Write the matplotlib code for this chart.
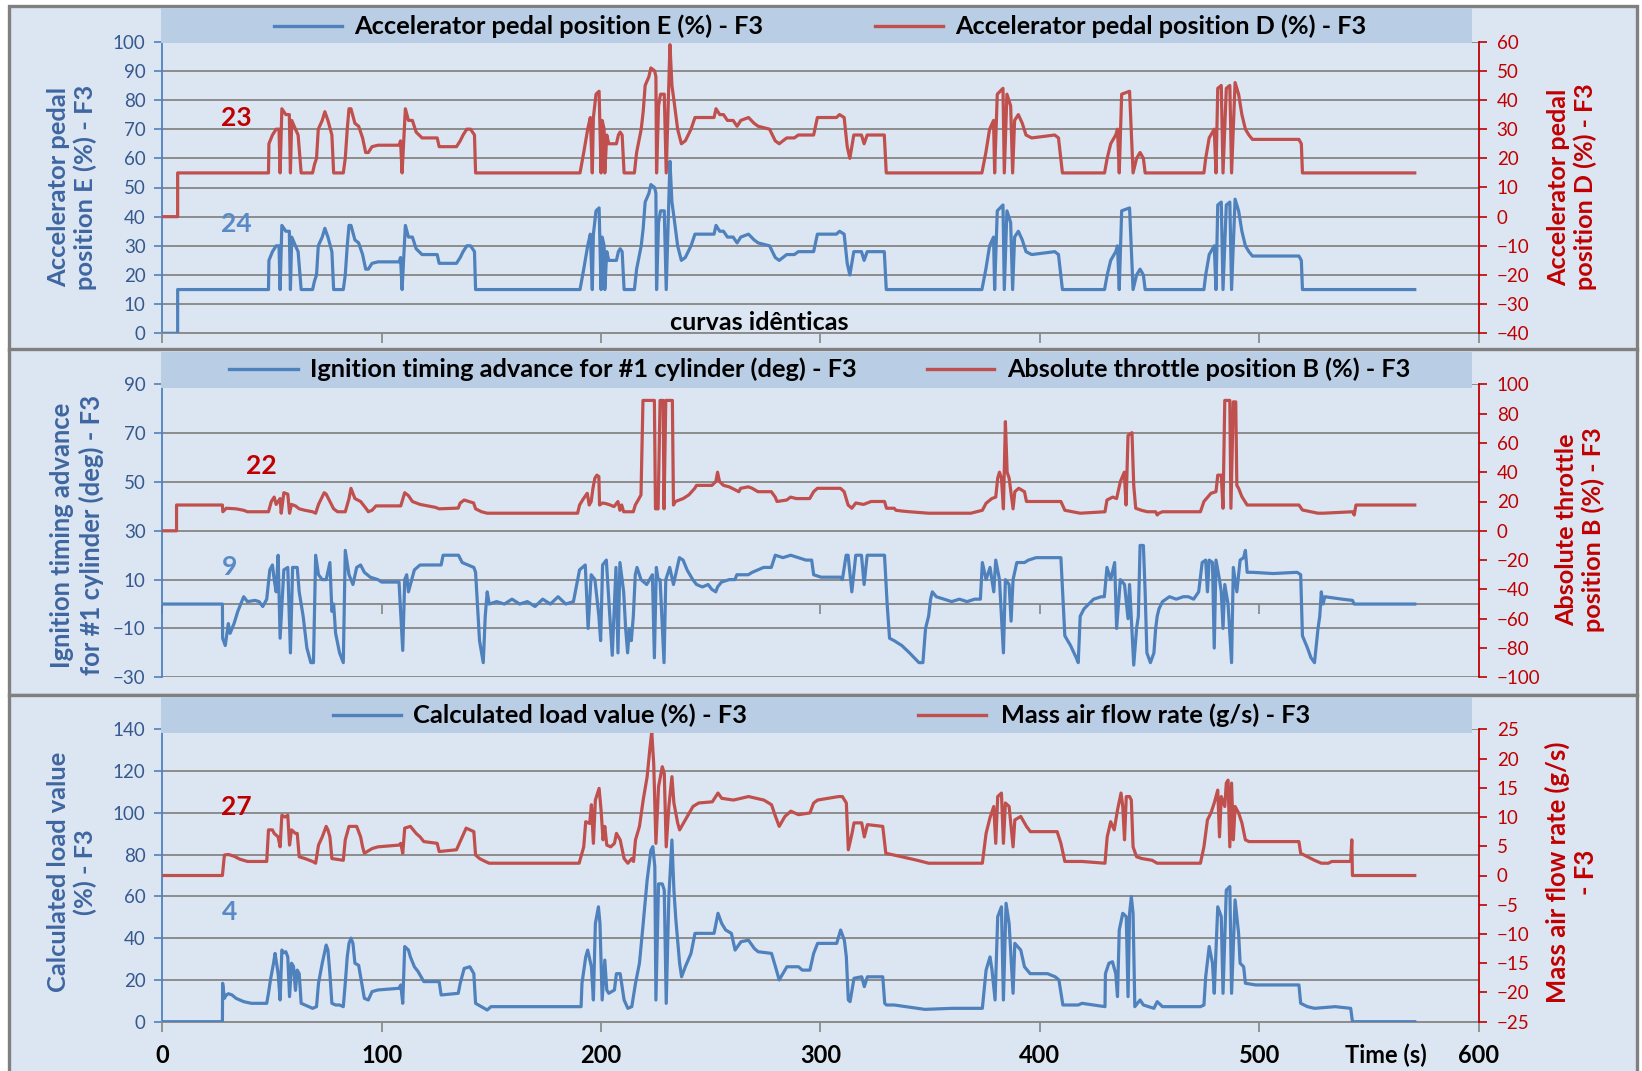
import matplotlib
matplotlib.use("Agg")
import matplotlib.pyplot as plt
from matplotlib.patches import Rectangle
from matplotlib.lines import Line2D

plt.rcParams['font.family'] = ['Lato', 'DejaVu Sans']

# ---- logged OBD signals, (time s, value) ----
# accelerator pedal position E (%) - sensor D reads the same trace
pedal_e = [(0, 0), (7, 0), (7, 15), (48.4, 15), (48.6, 25), (50.2, 28), (51.9, 30), (53.2, 30), (53.7, 15),
           (54.5, 37), (56.3, 35), (57.9, 35), (58.4, 15), (59.0, 33), (60.7, 30), (61.9, 28), (63.3, 15),
           (68.5, 15), (69.4, 18), (70.3, 20), (71.1, 30), (72.9, 33), (74.1, 36), (75.5, 33), (77.3, 28),
           (78.1, 15), (82.5, 15), (83.4, 20), (84.3, 30), (85.1, 37), (86.0, 37), (87.8, 32), (89.5, 31),
           (91.3, 27), (92.7, 22), (93.9, 22), (95.6, 24), (98.3, 24.5), (107.9, 24.5), (108.6, 26),
           (109.3, 15), (110.8, 37), (112.2, 33), (114.0, 33), (115.7, 29), (118.4, 27), (125.3, 27),
           (126.2, 24), (134.1, 24), (135.8, 26), (137.1, 28), (138.8, 30), (140.5, 30), (142.3, 28),
           (142.8, 15), (190.4, 15), (192.1, 22), (193.9, 30), (195.1, 34), (196.0, 15), (196.5, 34),
           (197.7, 42), (199.1, 43), (200.0, 15), (200.5, 33), (201.4, 30), (201.7, 15), (202.6, 28),
           (203.5, 25), (207.0, 25), (207.9, 28), (208.7, 29), (209.6, 28), (210.5, 15), (215.2, 15),
           (216.2, 22), (218.3, 30), (219.2, 36), (220.1, 45), (221.8, 48), (222.7, 51), (224.4, 50),
           (225.0, 48), (225.3, 15), (226.2, 38), (227.1, 42), (228.8, 42), (229.7, 15), (231.4, 59),
           (232.3, 45), (233.2, 40), (234.9, 30), (236.6, 25), (238.4, 26), (241.0, 30), (242.8, 34),
           (251.5, 34), (252.4, 37), (254.1, 35), (255.8, 35), (257.6, 33), (260.2, 33), (262.0, 31),
           (263.7, 33), (267.2, 34), (269.8, 32), (271.6, 31), (276.8, 30), (279.4, 26), (281.2, 25),
           (284.6, 27), (288.1, 27), (289.9, 28), (296.9, 28), (298.6, 34), (307.3, 34), (308.7, 35),
           (310.8, 34), (312.2, 24), (313.4, 20), (315.2, 28), (318.7, 28), (319.9, 25), (321.3, 28),
           (329.1, 28), (330.0, 15), (373.6, 15), (375.4, 22), (377.1, 30), (378.9, 33), (379.4, 15),
           (380.6, 42), (383.2, 44), (383.8, 15), (385.0, 42), (386.7, 38), (387.6, 15), (388.5, 33),
           (390.2, 35), (392.0, 32), (393.7, 28), (396.3, 27), (406.8, 28), (408.5, 27), (410.3, 15),
           (429.5, 15), (430.7, 20), (432.3, 25), (434.6, 28), (435.4, 30), (436.2, 15), (437.3, 42),
           (440.9, 43), (442.5, 15), (444.1, 20), (445.7, 22), (447.2, 20), (448.0, 15), (474.8, 15),
           (475.6, 20), (477.2, 27), (479.5, 30), (480.3, 15), (481.1, 44), (482.7, 45), (483.5, 15),
           (485.0, 44), (486.6, 45), (487.4, 15), (489.0, 46), (490.6, 42), (492.1, 35), (493.7, 30),
           (495.3, 28), (496.9, 26.5), (518.1, 26.5), (519.2, 25), (519.7, 15), (570.9, 15)]
pedal_d = pedal_e  # curves are identical

# ignition timing advance for #1 cylinder (deg)
ignition = [(0, 0), (27.4, 0), (27.5, -14), (28.7, -17), (30.1, -8), (30.9, -12), (32.7, -8), (34.4, -3),
            (36.2, 1), (37.1, 3), (38.8, 1), (42.3, 1.5), (44.1, 1), (45.8, -1), (47.6, 2), (49.0, 14),
            (50.2, 16), (51.0, 10), (51.9, 5), (52.8, 20), (53.7, -14), (55.4, 14), (57.2, 15), (58.4, -20),
            (59.4, 15), (61.5, 15), (62.4, 5), (64.2, -5), (65.9, -18), (67.7, -24), (68.9, -24), (69.9, 20),
            (71.2, 12), (72.9, 10), (74.7, 10), (76.4, 17), (77.3, -3), (78.1, 0), (79.0, -12), (80.8, -20),
            (82.5, -24), (83.4, 22), (85.1, 12), (86.9, 8), (88.6, 15), (90.4, 16), (92.1, 13), (94.8, 11),
            (98.3, 10), (100, 9), (107.9, 9), (109.6, -19), (110.5, 10), (111.4, 12), (112.2, 5), (114.9, 14),
            (117.5, 16), (127.1, 16), (128.0, 20), (135.0, 20), (136.7, 17), (142.0, 15), (142.8, 13),
            (144.6, -15), (146.3, -24), (147.2, -5), (148.1, 5), (149.0, 0), (152.4, 1), (155.9, 0),
            (159.4, 2), (162.9, 0), (166.4, 1), (169.9, -1), (173.4, 2), (176.9, 0), (180.4, 3), (183.9, 0),
            (187.4, 1), (190.2, 14), (192.8, 16), (194.1, -10), (195.5, 12), (197.2, 10), (199.0, -5),
            (199.8, -15), (200.7, 16), (202.4, 18), (203.3, 5), (205.1, -21), (206.8, 15), (207.7, -20),
            (208.6, 17), (210.3, 5), (211.2, -10), (212.1, -20), (212.9, -10), (213.8, -15), (214.7, -5),
            (215.6, 12), (216.4, 15), (218.2, 10), (220.8, 8), (223.4, 12), (224.3, -22), (225.2, 15),
            (226.0, 10), (226.9, 10), (228.7, -24), (229.5, 10), (231.3, 15), (233.0, 8), (235.7, 19),
            (237.4, 18), (239.2, 14), (241.8, 10), (243.5, 8), (246.2, 7), (248.8, 8), (250.5, 6), (252.3, 5),
            (253.1, 7), (254.9, 9), (258.4, 10), (261.0, 10), (261.9, 12), (267.1, 12), (268.9, 13),
            (271.5, 14), (274.1, 15), (277.6, 15), (279.4, 20), (282.9, 19), (286.4, 20), (289.9, 19),
            (293.4, 18), (296.0, 18), (296.9, 12), (300.3, 11), (309.1, 11), (310.0, 10), (311.7, 20),
            (312.6, 20), (314.3, 5), (316.1, 20), (318.7, 20), (319.9, 8), (321.3, 20), (329.2, 20),
            (330.4, 0), (331.5, -14), (333.6, -15), (337.1, -17), (340.6, -20), (344.9, -24), (346.7, -24),
            (347.9, -10), (349.3, -5), (350.2, 2), (351.0, 5), (352.8, 3), (356.3, 2), (359.8, 1), (363.3, 2),
            (366.8, 1), (370.3, 2), (372.9, 2), (373.8, 17), (375.5, 10), (377.3, 15), (379.0, 5), (379.9, 18),
            (381.6, 10), (383.4, -20), (384.3, 10), (386.0, 8), (386.9, -7), (387.8, 10), (389.5, 17),
            (393.0, 17), (394.8, 18), (398.3, 19), (409.6, 19), (411.4, -13), (414.0, -17), (416.6, -22),
            (417.5, -24), (418.4, -5), (420.1, -2), (424.5, 2), (428.0, 3), (429.4, 3), (430.6, 15),
            (432.3, 10), (434.1, 17), (435.0, -10), (436.7, 10), (438.6, 8), (440.2, -6), (440.9, 8),
            (442.8, -25), (444.1, -10), (444.9, -5), (445.7, 24), (447.2, 24), (448.0, 5), (448.8, -20),
            (450.4, -24), (452.0, -20), (452.8, -10), (453.5, -5), (454.3, -2), (455.9, 1), (459.1, 3),
            (462.2, 2), (465.4, 3), (467.7, 3), (470.1, 2), (472.4, 5), (474.0, 17), (475.6, 18), (476.4, 5),
            (477.2, 18), (478.7, 17), (479.5, -18), (480.3, 18), (481.9, 10), (482.7, 5), (483.5, -10),
            (484.3, 8), (485.8, 0), (487.4, -24), (488.2, 15), (489.8, 5), (491.3, 18), (492.9, 19),
            (493.7, 22), (494.5, 13), (496.9, 13), (506.3, 12.5), (517.3, 13), (518.9, 12), (519.7, -13),
            (522.0, -18), (523.6, -22), (525.2, -24), (526.8, -10), (527.6, -5), (528.3, 5), (529.1, 0),
            (529.9, 3), (537.8, 2), (542.5, 1.5), (543.3, 0), (570.9, 0)]

# absolute throttle position B (%)
throttle_b = [(0, 0), (6.5, 0), (6.5, 17.6), (27.4, 17.6), (27.6, 13), (29.2, 15.4), (33.6, 15), (37.1, 14),
              (38.8, 13), (48.4, 13), (49.7, 20), (51.0, 23), (51.9, 18), (53.7, 22), (54.2, 12), (55.4, 26),
              (57.2, 25), (58.0, 12), (58.9, 18), (60.7, 17), (62.4, 15), (65.0, 14), (68.5, 13), (69.9, 12),
              (71.2, 18), (73.8, 26), (74.7, 25), (76.4, 20), (78.1, 15), (79.9, 13), (83.4, 13), (85.1, 22),
              (86.0, 29), (87.8, 22), (90.4, 20), (93.0, 15), (93.9, 13), (95.6, 14), (97.4, 17), (108.7, 17),
              (110.5, 26), (112.2, 24), (114.0, 20), (115.7, 19), (117.5, 18), (121.0, 17), (124.5, 16),
              (126.2, 15), (134.9, 15.5), (135.8, 19), (137.6, 21), (141.9, 19), (142.8, 15), (145.5, 13),
              (148.1, 12), (189.3, 12), (190.2, 17.6), (192.0, 22), (193.7, 25.6), (194.6, 17.6), (195.5, 20),
              (196.3, 29), (197.2, 36), (198.1, 38), (199.0, 37), (199.3, 17.6), (200.7, 19), (202.4, 18.5),
              (204.2, 17.6), (205.9, 16.5), (207.7, 20), (208.6, 14), (209.4, 17.6), (210.3, 13), (214.7, 13),
              (215.6, 17.6), (217.3, 22), (218.2, 24.5), (219.1, 89), (224.3, 89), (224.8, 15), (226.0, 15),
              (226.9, 89), (228.3, 89), (228.7, 15), (229.5, 89), (232.5, 89), (233.0, 17.6), (233.9, 20),
              (235.7, 21), (237.4, 22), (240.0, 24.5), (242.7, 29), (243.5, 31), (250.5, 31), (252.3, 33.6),
              (253.1, 40), (254.0, 33.6), (255.8, 31), (258.4, 30), (261.0, 28), (262.8, 26.7), (263.6, 29),
              (267.1, 30), (268.9, 29), (271.5, 26.7), (277.6, 26.7), (279.4, 23), (280.2, 20), (284.6, 21),
              (286.4, 23), (289.0, 22), (295.1, 22), (296.9, 26.7), (298.6, 29), (309.1, 29), (310.8, 26.7),
              (312.6, 17.6), (314.3, 15.4), (316.1, 19), (319.6, 18), (323.1, 20), (329.2, 20), (330.1, 15.4),
              (333.6, 15.4), (334.4, 14), (337.1, 13.5), (340.6, 13), (349.3, 12), (368.5, 12), (373.8, 14),
              (375.5, 18.8), (378.1, 22), (379.9, 23), (380.8, 36), (381.6, 40), (382.5, 36), (383.4, 15),
              (384.3, 74.5), (385.1, 40), (386.0, 36), (387.8, 15), (388.6, 26.7), (390.4, 29), (393.0, 26.7),
              (393.9, 20), (409.6, 20), (411.4, 14), (418.4, 12), (429.7, 13), (430.6, 21), (433.2, 23),
              (435.0, 22), (436.7, 33.6), (438.5, 40), (439.3, 17.6), (440.2, 65), (442.0, 67), (442.8, 31),
              (443.7, 15.4), (446.3, 14), (449.0, 13), (452.8, 13), (453.5, 10.8), (454.3, 12), (455.9, 13),
              (473.2, 13), (474.8, 20), (478.0, 25.6), (480.3, 26.7), (481.1, 38), (482.7, 38), (483.5, 15.4),
              (484.3, 89), (486.6, 89), (487.1, 15.4), (488.2, 88), (489.3, 88), (489.8, 31), (490.6, 29),
              (492.1, 23.3), (494.5, 17.6), (518.1, 17.6), (519.7, 14.2), (523.6, 13), (526.8, 12), (529.1, 12),
              (542.5, 13), (543.3, 10.8), (544.1, 17.6), (570.9, 17.6)]

# calculated load value (%)
load = [(0, 0), (27.4, 0), (27.5, 18.4), (28.3, 11.2), (29.2, 12.8), (30.1, 13.4), (31.8, 12.8), (33.6, 11.2),
        (37.1, 9.6), (40.6, 8.8), (47.6, 8.8), (48.4, 13.6), (49.3, 20), (50.7, 28), (51.4, 32.7), (52.8, 23),
        (53.7, 10.4), (54.5, 34.3), (55.4, 33), (56.3, 33.5), (57.2, 31), (58.0, 12), (58.9, 28), (59.8, 26.5),
        (60.7, 15), (61.5, 24.7), (62.4, 23), (63.3, 8.8), (65.0, 8), (66.8, 7.2), (68.5, 6.4), (70.3, 7.2),
        (71.2, 18.4), (72.9, 28), (74.7, 36.7), (75.5, 34.3), (76.4, 23), (77.3, 8.8), (79.0, 8), (80.8, 8),
        (82.5, 7.2), (83.4, 18.4), (84.3, 31), (85.1, 37.5), (86.0, 40), (86.9, 37.5), (87.8, 28), (89.5, 27),
        (90.4, 21.5), (92.1, 11.2), (93.9, 10.4), (95.6, 14.4), (98.3, 15.2), (107.9, 16), (108.7, 17.6),
        (109.6, 8.8), (110.5, 36), (112.2, 34.3), (113.1, 31), (114.9, 26.3), (116.6, 24), (119.2, 19.2),
        (126.2, 19.2), (127.1, 12.8), (134.9, 13.6), (135.8, 18.4), (137.6, 25.5), (140.2, 26.3), (142.0, 23),
        (142.8, 8.8), (145.5, 7.2), (148.1, 5.6), (149.8, 7.2), (190.9, 7.2), (191.3, 18.4), (193.0, 31),
        (193.9, 34.3), (195.6, 26.3), (196.5, 10.4), (197.4, 47), (198.8, 55), (199.5, 47), (200.5, 10.4),
        (201.7, 29.5), (202.6, 15.2), (203.5, 13.6), (206.1, 15.2), (207.0, 23), (208.7, 23), (210.5, 10.4),
        (212.2, 6.4), (214.0, 7.2), (215.7, 18.4), (217.5, 28), (219.2, 47), (221.0, 67.8), (222.7, 82),
        (223.6, 83.8), (224.5, 74.3), (225.0, 10.4), (226.2, 66), (227.9, 66), (228.8, 63), (229.7, 8.8),
        (230.9, 60), (232.3, 87), (233.2, 63), (234.1, 48.7), (235.8, 28), (236.7, 21.5), (238.4, 26.3),
        (241.0, 32.7), (242.8, 42.3), (251.5, 42.3), (253.3, 51.9), (255.0, 47), (256.8, 43.9), (259.4, 42.3),
        (261.1, 34.3), (263.8, 38.3), (267.2, 39), (269.9, 35), (271.6, 33.5), (277.7, 32.7), (279.5, 26.3),
        (281.2, 20), (284.7, 26.3), (290.0, 26.3), (291.7, 24.7), (295.2, 24.7), (296.9, 32.7), (298.7, 37.5),
        (307.4, 37.5), (309.2, 43.9), (310.9, 39), (311.8, 31), (312.7, 10.4), (313.5, 9.6), (315.3, 20.8),
        (318.8, 21.5), (320.0, 16.8), (321.4, 21.5), (328.4, 21.5), (329.3, 8.8), (330.1, 8), (333.6, 8),
        (338.9, 7.2), (347.6, 5.9), (359.8, 6.4), (373.8, 6.4), (375.5, 24.7), (377.3, 31), (378.2, 24.7),
        (379.6, 10.4), (380.8, 50.3), (382.5, 55), (383.4, 10.4), (384.6, 56.7), (386.0, 47), (387.8, 13.6),
        (388.6, 37.5), (391.3, 34.3), (393.0, 26.3), (395.6, 23), (403.5, 23), (407.0, 21.5), (408.7, 20),
        (410.5, 8), (417.5, 8), (419.2, 8.8), (429.7, 7.2), (429.9, 23), (431.5, 28), (433.1, 28.7),
        (434.6, 23), (435.4, 12), (436.2, 43.9), (437.8, 51.9), (439.4, 50.3), (440.2, 12), (440.9, 51.9),
        (441.7, 59.9), (442.5, 51.9), (443.3, 7.2), (445.7, 10.4), (447.2, 8), (449.6, 7.2), (452.0, 6.4),
        (453.5, 9.6), (455.9, 7.2), (473.2, 7.2), (474.8, 8), (475.6, 21.5), (477.2, 36), (478.7, 28),
        (479.5, 13.6), (481.1, 55), (482.7, 50.3), (483.5, 13.6), (485.0, 63), (486.6, 64.7), (487.4, 13.6),
        (489.0, 58.3), (490.6, 42.3), (491.3, 28), (492.9, 26.3), (493.7, 18.4), (498.4, 17.6), (518.1, 17.6),
        (518.9, 8.8), (520.5, 8), (522.0, 7.2), (525.2, 6.4), (534.6, 7.2), (541.7, 6.4), (542.5, 0),
        (570.9, 0)]

# mass air flow rate (g/s)
maf = [(0, 0), (27.4, 0), (28.3, 3.5), (30.1, 3.6), (32.7, 3.3), (35.3, 2.8), (38.8, 2.4), (47.6, 2.4),
       (48.4, 7.8), (50.2, 7.8), (51.0, 7.2), (52.8, 6.6), (53.7, 4.9), (54.5, 10.3), (55.9, 10), (57.2, 10.3),
       (58.0, 5.2), (58.9, 7.8), (60.7, 7.2), (61.5, 7.2), (62.4, 3.2), (65.0, 2.9), (68.5, 2.4), (69.9, 2.1),
       (71.2, 5.2), (72.9, 6.6), (74.7, 8.4), (75.5, 7.8), (76.4, 6.6), (77.3, 2.9), (82.5, 2.6), (83.4, 6.1),
       (85.1, 8.4), (88.6, 8.4), (90.4, 6.6), (91.3, 4.9), (92.1, 3.8), (95.6, 4.6), (98.3, 4.9), (107.9, 5.2),
       (108.7, 5.5), (109.6, 3.8), (110.5, 8.1), (113.1, 8.4), (115.7, 7.2), (117.5, 6.6), (119.2, 5.8),
       (125.3, 5.5), (126.2, 4.1), (134.1, 4.4), (136.7, 6.6), (138.5, 8.1), (142.0, 7.5), (142.8, 3.5),
       (144.6, 2.9), (147.2, 2.4), (149.0, 2.1), (190.0, 2.1), (192.1, 4.9), (193.0, 9.2), (194.8, 8.9),
       (195.6, 12.1), (196.5, 5.5), (197.4, 12.9), (199.1, 14.9), (200.0, 11.2), (200.9, 6.1), (201.7, 8.4),
       (202.6, 5.2), (204.4, 4.9), (206.1, 5.5), (207.0, 7.2), (208.7, 6.1), (210.5, 2.9), (212.2, 2.1),
       (214.0, 2.9), (214.8, 2.4), (215.7, 6.1), (217.5, 8.4), (219.2, 12.9), (221.0, 16.9), (222.2, 21.5),
       (223.1, 24.6), (224.0, 19.1), (225.0, 5.5), (226.2, 15.2), (227.9, 18.6), (228.8, 17.5), (229.7, 4.9),
       (230.9, 11.8), (232.3, 16.9), (233.2, 12.4), (234.9, 9.0), (235.8, 7.8), (237.6, 9.0), (239.3, 10.1),
       (241.9, 11.8), (244.5, 12.4), (250.7, 12.6), (253.3, 14.1), (255.0, 13.2), (260.3, 12.9), (267.2, 13.5),
       (274.2, 12.9), (277.7, 12.1), (279.5, 10.1), (281.2, 8.4), (283.8, 10.1), (286.5, 11.0), (290.0, 10.4),
       (295.2, 10.7), (296.9, 12.4), (298.7, 12.9), (308.3, 13.5), (310.0, 13.5), (311.8, 12.4), (312.7, 4.4),
       (314.4, 7.2), (315.3, 9.0), (318.8, 9.0), (320.0, 6.6), (321.4, 8.7), (328.4, 8.4), (329.8, 3.8),
       (337.1, 3.2), (344.1, 2.6), (349.3, 2.1), (373.8, 2.1), (375.5, 7.2), (377.3, 9.9), (379.0, 11.8),
       (379.9, 5.5), (380.8, 13.5), (382.5, 14.1), (383.4, 5.5), (384.3, 12.4), (386.0, 11.8), (387.8, 4.9),
       (388.6, 9.5), (391.3, 10.1), (393.9, 8.4), (395.7, 7.5), (407.9, 7.5), (409.6, 5.5), (411.4, 2.4),
       (419.2, 2.4), (429.7, 2.1), (430.7, 6.6), (432.3, 9.2), (433.9, 7.8), (435.4, 11.2), (437.0, 14.1),
       (437.8, 11.8), (438.6, 6.1), (439.4, 13.5), (440.9, 13.5), (441.7, 12.9), (442.5, 4.9), (444.1, 3.2),
       (446.5, 2.9), (451.2, 2.6), (453.5, 2.1), (473.2, 2.1), (474.8, 4.9), (476.4, 9.5), (478.0, 10.7),
       (479.5, 12.4), (481.1, 14.6), (481.9, 6.6), (482.7, 13.5), (484.3, 11.8), (485.0, 15.8), (485.8, 16.3),
       (486.6, 4.9), (487.4, 15.8), (488.2, 6.1), (489.0, 11.8), (490.6, 10.7), (492.1, 9.0), (493.7, 6.1),
       (495.3, 5.8), (518.1, 5.8), (518.9, 3.8), (520.5, 3.5), (522.0, 3.2), (525.2, 2.6), (528.3, 2.1),
       (531.5, 2.1), (533.1, 2.4), (541.7, 2.4), (542.2, 6.1), (542.5, 0), (570.9, 0)]

time_ticks = [0, 100, 200, 300, 400, 500, 600]

# ---- styling ----
W, H = 1642, 1071
BLUE = '#4f81bd'
RED = '#c0504d'
BLUE_TXT = '#3e66a0'
BLUE_TICK = '#35598f'
BLUE_NUM = '#5a8ac6'
RED_TXT = '#c00000'
GRID = '#8c8c8c'
BG = '#dce6f2'
BAND = '#b9cde5'
FRAME = '#808080'
LW = 2.3


def fx(px):
    return px / W


def fy(py):
    return 1 - py / H


fig = plt.figure(figsize=(W / 100, H / 100), dpi=100)
fig.patch.set_facecolor('white')
to_fit = []  # (text, target length in px, horizontal?)


def draw_panel(frame_y, band_y, ax_y, blue, red, ylim_l, yt_l, ylim_r, yt_r,
               label_l, label_r, lab_pos, lab_len, leg, notes, bottom=False):
    # panel background with grey border
    fig.add_artist(Rectangle((fx(9), fy(frame_y[1])), fx(1637 - 9), (frame_y[1] - frame_y[0]) / H,
                             transform=fig.transFigure, facecolor=BG, edgecolor=FRAME, lw=2.4, zorder=-2))
    ax = fig.add_axes([fx(162.3), fy(ax_y[1]), fx(1478.6 - 162.3), (ax_y[1] - ax_y[0]) / H])
    ax.set_facecolor('none')
    t, v = zip(*blue)
    ax.plot(t, v, color=BLUE, lw=LW, zorder=3)
    ax.set_xlim(0, 600)
    ax.set_ylim(*ylim_l)
    ax.set_yticks(yt_l)
    ax.set_xticks(time_ticks)
    ax.yaxis.grid(True, color=GRID, lw=1.4)
    ax.set_axisbelow(True)
    for s in ('top', 'right'):
        ax.spines[s].set_visible(False)
    ax.spines['left'].set_color(BLUE)
    ax.spines['left'].set_linewidth(1.3)
    ax.spines['bottom'].set_position(('data', 0))
    ax.spines['bottom'].set_color(GRID)
    ax.spines['bottom'].set_linewidth(1.4)
    ax.tick_params(axis='y', colors=BLUE, labelcolor=BLUE_TICK, length=6, width=1.2, pad=6, labelsize=13.5)
    ax.tick_params(axis='x', colors=GRID, length=7, width=1.3, labelbottom=bottom,
                   labelcolor='black', labelsize=17, pad=9)
    if bottom:
        for lbl in ax.get_xticklabels():
            lbl.set_fontweight('bold')

    ax2 = ax.twinx()
    t, v = zip(*red)
    ax2.plot(t, v, color=RED, lw=LW)
    ax2.set_ylim(*ylim_r)
    ax2.set_yticks(yt_r)
    for s in ('top', 'left', 'bottom'):
        ax2.spines[s].set_visible(False)
    ax2.spines['right'].set_color(RED_TXT)
    ax2.spines['right'].set_linewidth(1.3)
    ax2.tick_params(axis='y', colors=RED_TXT, labelcolor=RED_TXT, length=6, width=1.2, pad=7, labelsize=13.5)

    # axis titles
    tl = fig.text(fx(lab_pos[0]), fy(lab_pos[1]), label_l, rotation=90, ha='center', va='center',
                  multialignment='center', color=BLUE_TXT, fontsize=18, fontweight='bold', linespacing=1.2)
    tr = fig.text(fx(lab_pos[2]), fy(lab_pos[3]), label_r, rotation=90, ha='center', va='center',
                  multialignment='center', color=RED_TXT, fontsize=18, fontweight='bold', linespacing=1.2)
    to_fit.append((tl, lab_len[0], False))
    to_fit.append((tr, lab_len[1], False))

    # legend strip
    fig.add_artist(Rectangle((fx(161), fy(band_y[1])), fx(1472 - 161), (band_y[1] - band_y[0]) / H,
                             transform=fig.transFigure, facecolor=BAND, edgecolor='none', zorder=2))
    ly = fy(leg['y'])
    for (x0, x1, xt, xe, text, col) in leg['items']:
        fig.add_artist(Line2D([fx(x0), fx(x1)], [ly, ly], color=col, lw=2.4,
                              transform=fig.transFigure, zorder=4))
        lt = fig.text(fx(xt), ly, text, ha='left', va='center', fontsize=16, fontweight='bold',
                      color='black', zorder=5)
        to_fit.append((lt, xe - xt, True))

    for (x, y, s, col, size) in notes:
        ax.text(x, y, s, ha='center', va='center', color=col, fontsize=size, fontweight='bold')
    return ax


draw_panel((6, 349.5), (8, 43), (41.7, 333.3), pedal_e, pedal_d,
           (0, 100), range(0, 101, 10), (-40, 60), range(-40, 61, 10),
           'Accelerator pedal\nposition E (%) - F3', 'Accelerator pedal\nposition D (%) - F3',
           (72, 187, 1572, 187), (205, 207),
           {'y': 26, 'items': [(274, 342, 354, 764, 'Accelerator pedal position E (%) - F3', BLUE),
                               (875, 943, 955, 1368, 'Accelerator pedal position D (%) - F3', RED)]},
           [(33.6, 74, '23', RED_TXT, 19), (33.6, 37.5, '24', BLUE_NUM, 19),
            (272, 3.6, 'curvas idênticas', 'black', 18)])

draw_panel((349.5, 694.5), (352, 388), (384.3, 677.3), ignition, throttle_b,
           (-30, 90), range(-30, 91, 20), (-100, 100), range(-100, 101, 20),
           'Ignition timing advance\nfor #1 cylinder (deg) - F3', 'Absolute throttle\nposition B (%) - F3',
           (77, 535, 1580, 530), (280, 205),
           {'y': 369, 'items': [(229, 298, 310, 859, 'Ignition timing advance for #1 cylinder (deg) - F3', BLUE),
                                (927, 994, 1007, 1413, 'Absolute throttle position B (%) - F3', RED)]},
           [(45, 56.4, '22', RED_TXT, 19), (30.5, 15.2, '9', BLUE_NUM, 19)])

draw_panel((694.5, 1076), (697, 733), (729.3, 1021.7), load, maf,
           (0, 140), range(0, 141, 20), (-25, 25), range(-25, 26, 5),
           'Calculated load value\n(%) - F3', 'Mass air flow rate (g/s)\n- F3',
           (72, 872, 1571, 872), (241, 262),
           {'y': 715, 'items': [(333, 401, 413, 746, 'Calculated load value (%) - F3', BLUE),
                                (918, 986, 1001, 1311, 'Mass air flow rate (g/s) - F3', RED)]},
           [(33.9, 103, '27', RED_TXT, 19), (30.5, 52.6, '4', BLUE_NUM, 19)],
           bottom=True)

fig.text(fx(1386), fy(1055), 'Time (s)', ha='center', va='center', fontsize=17, fontweight='bold')

# scale titles and legend entries to the space they occupy
renderer = fig.canvas.get_renderer()
for txt, length, horizontal in to_fit:
    bb = txt.get_window_extent(renderer)
    size = bb.width if horizontal else bb.height
    txt.set_fontsize(txt.get_fontsize() * length / size)

fig.savefig('out.png', dpi=100, facecolor='white')
